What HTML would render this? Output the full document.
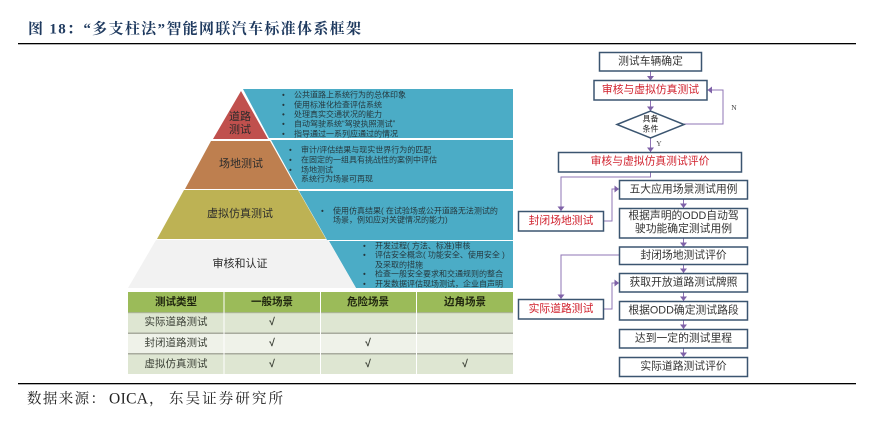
<!DOCTYPE html>
<html lang="zh"><head><meta charset="utf-8"><title>智能网联汽车标准体系框架</title>
<style>
html,body{margin:0;padding:0;background:#fff}
svg{display:block}
.s{font-family:"Liberation Sans","Noto Sans CJK SC",sans-serif}
.sf{font-family:"Liberation Serif","Noto Serif CJK SC",serif}
.b{font-size:8px;fill:#26393f;dominant-baseline:central}
.l{font-size:11px;fill:#2b2b2b;text-anchor:middle;dominant-baseline:central}
.t{font-size:10.5px;fill:#3a3f35;text-anchor:middle;dominant-baseline:central}
.v{font-size:10.5px;font-weight:700;fill:#3a3f35;text-anchor:middle;dominant-baseline:central}
.h{font-size:10.5px;font-weight:700;fill:#20260f;text-anchor:middle;dominant-baseline:central}
.f{font-size:10.8px;fill:#333;text-anchor:middle;dominant-baseline:central}
.r{font-size:10.8px;fill:#d0202c;text-anchor:middle;dominant-baseline:central}
.box{fill:#fff;stroke:#3b5570;stroke-width:1.5}
.c{fill:none;stroke:#8f74b5;stroke-width:1}
.a{fill:#7f62a8}
.d{filter:blur(.3px)}
</style></head><body>
<svg width="888" height="428" viewBox="0 0 888 428" xmlns="http://www.w3.org/2000/svg">
<rect width="888" height="428" fill="#fff"/>
<text class="sf" x="28" y="33.500" font-size="15" font-weight="700" fill="#1f3a5f" textLength="333" lengthAdjust="spacing">图 18：“多支柱法”智能网联汽车标准体系框架</text>
<rect x="18" y="43" width="838" height="1.3" fill="#000"/>
<rect x="18" y="383" width="838" height="1.3" fill="#000"/>
<text class="sf" x="27" y="403.500" font-size="14.500" fill="#222" textLength="78" lengthAdjust="spacing">数据来源：</text>
<text class="sf" x="109" y="403.500" font-size="15.500" fill="#222" textLength="39" lengthAdjust="spacing">OICA</text>
<text class="sf" x="149" y="403.500" font-size="14.500" fill="#222">，</text>
<text class="sf" x="169" y="403.500" font-size="14.500" fill="#222" textLength="114" lengthAdjust="spacing">东吴证券研究所</text>

<g class="d">
<polygon points="243,89 513,89 513,138 269,138" fill="#4bacc6"/>
<polygon points="271,140 513,140 513,189 298,189" fill="#4bacc6"/>
<polygon points="299,191 513,191 513,240 327,240" fill="#4bacc6"/>
<polygon points="329,241 513,241 513,288 356,288" fill="#4bacc6"/>
<polygon points="241,91 268,139 213,139" fill="#c0504d"/>
<polygon points="211,141 270,141 297,189 185,189" fill="#be7f4f"/>
<polygon points="184,190 298,190 326,239 157,239" fill="#bdb254"/>
<polygon points="156,240 328,240 356,288 128,288" fill="#f2f2f2"/>

<g class="s">
<text class="l" x="240" y="117">道路</text><text class="l" x="240" y="130">测试</text>
<text class="l" x="241" y="164">场地测试</text>
<text class="l" x="240" y="214">虚拟仿真测试</text>
<text class="l" x="240" y="264">审核和认证</text>

<g class="b">
<text x="282" y="95">•</text><text x="294" y="95">公共道路上系统行为的总体印象</text>
<text x="282" y="105">•</text><text x="294" y="105">使用标准化检查评估系统</text>
<text x="282" y="114.500">•</text><text x="294" y="114.500">处理真实交通状况的能力</text>
<text x="282" y="124">•</text><text x="294" y="124">自动驾驶系统“驾驶执照测试”</text>
<text x="282" y="134">•</text><text x="294" y="134">指导通过一系列应通过的情况</text>

<text x="289" y="150">•</text><text x="301" y="150">审计/评估结果与现实世界行为的匹配</text>
<text x="289" y="160">•</text><text x="301" y="160">在固定的一组具有挑战性的案例中评估</text>
<text x="289" y="170">•</text><text x="301" y="170">场地测试</text>
<text x="301" y="179">系统行为场景可再现</text>

<text x="321" y="211">•</text><text x="333" y="211">使用仿真结果( 在试验场或公开道路无法测试的</text>
<text x="333" y="220">场景，例如应对关键情况的能力)</text>

<text x="363" y="246">•</text><text x="375" y="246">开发过程( 方法、标准)审核</text>
<text x="363" y="255">•</text><text x="375" y="255">评估安全概念( 功能安全、使用安全 )</text>
<text x="375" y="265">及采取的措施</text>
<text x="363" y="274">•</text><text x="375" y="274">检查一般安全要求和交通规则的整合</text>
<text x="363" y="284">•</text><text x="375" y="284">开发数据评估现场测试，企业自声明</text>
</g>

<rect x="128" y="292" width="385" height="20" fill="#9bbb59"/>
<rect x="128" y="313" width="385" height="19.500" fill="#dee6d2"/>
<rect x="128" y="334" width="385" height="19" fill="#eff2e9"/>
<rect x="128" y="354.500" width="385" height="19.500" fill="#dee6d2"/>
<rect x="128" y="312" width="385" height="1.200" fill="#a9b48f"/>
<rect x="128" y="332.500" width="385" height="1.500" fill="#a8ab9e"/>
<rect x="128" y="353" width="385" height="1.500" fill="#a8ab9e"/>
<rect x="223.500" y="292" width="1" height="82" fill="#fff"/>
<rect x="320" y="292" width="1" height="82" fill="#fff"/>
<rect x="416" y="292" width="1" height="82" fill="#fff"/>
<text class="h" x="176" y="302">测试类型</text><text class="h" x="272" y="302">一般场景</text><text class="h" x="368" y="302">危险场景</text><text class="h" x="465" y="302">边角场景</text>
<text class="t" x="176" y="322">实际道路测试</text><text class="v" x="272" y="322">√</text>
<text class="t" x="176" y="343">封闭道路测试</text><text class="v" x="272" y="343">√</text><text class="v" x="368" y="343">√</text>
<text class="t" x="176" y="364">虚拟仿真测试</text><text class="v" x="272" y="364">√</text><text class="v" x="368" y="364">√</text><text class="v" x="465" y="364">√</text>
</g>

<path class="c" d="M650.500 71V80M650.500 100V111M650.500 138V152M684 124H723V90H707"/>
<path class="c" d="M650.500 172V177H561V211M604 221H612V189H619M619 255H561V299M604 309H612V283H619"/>
<path class="c" d="M683.500 199V208M683.500 238V247M683.500 264V273M683.500 292V301M683.500 320V329M683.500 348V357"/>
<g class="a">
<polygon points="647,76 654,76 650.500,80.500"/>
<polygon points="647,106.500 654,106.500 650.500,111"/>
<polygon points="647,147.500 654,147.500 650.500,152"/>
<polygon points="712,86.500 712,93.500 707.500,90"/>
<polygon points="557.500,206.500 564.500,206.500 561,211"/>
<polygon points="557.500,294.500 564.500,294.500 561,299"/>
<polygon points="614.500,185.500 614.500,192.500 619,189"/>
<polygon points="614.500,279.500 614.500,286.500 619,283"/>
<polygon points="680,203.500 687,203.500 683.500,208"/>
<polygon points="680,242.500 687,242.500 683.500,247"/>
<polygon points="680,268.500 687,268.500 683.500,273"/>
<polygon points="680,296.500 687,296.500 683.500,301"/>
<polygon points="680,324.500 687,324.500 683.500,329"/>
<polygon points="680,352.500 687,352.500 683.500,357"/>
</g>

<rect class="box" x="599.500" y="52.500" width="102" height="18.500"/>
<rect class="box" x="594" y="80.500" width="113" height="19.500"/>
<polygon class="box" points="617,124.500 650.500,111 684,124.500 650.500,138"/>
<rect class="box" x="558.500" y="152.500" width="183" height="19.500"/>
<rect class="box" x="619.500" y="180.500" width="128" height="18.500"/>
<rect class="box" x="619.500" y="208.500" width="128" height="29.500"/>
<rect class="box" x="619.500" y="247" width="128" height="17.500"/>
<rect class="box" x="619.500" y="273.500" width="128" height="18.500"/>
<rect class="box" x="619.500" y="301.500" width="128" height="18.500"/>
<rect class="box" x="619.500" y="329.500" width="128" height="18.500"/>
<rect class="box" x="619.500" y="357.500" width="128" height="19"/>
<rect class="box" x="518.500" y="211.500" width="85" height="19.500"/>
<rect class="box" x="518.500" y="299.500" width="85" height="19.500"/>

<g class="s">
<text class="f" x="650.500" y="61.500">测试车辆确定</text>
<text class="r" x="650.500" y="90">审核与虚拟仿真测试</text>
<text x="650.500" y="119" font-size="8" fill="#222" text-anchor="middle" dominant-baseline="central">具备</text>
<text x="650.500" y="129" font-size="8" fill="#222" text-anchor="middle" dominant-baseline="central">条件</text>
<text class="r" x="650" y="161.500">审核与虚拟仿真测试评价</text>
<text class="f" x="683.500" y="189.500">五大应用场景测试用例</text>
<text class="f" x="683.500" y="216">根据声明的ODD自动驾</text>
<text class="f" x="683.500" y="229">驶功能确定测试用例</text>
<text class="f" x="683.500" y="255.500">封闭场地测试评价</text>
<text class="f" x="683.500" y="282.500">获取开放道路测试牌照</text>
<text class="f" x="683.500" y="310.500">根据ODD确定测试路段</text>
<text class="f" x="683.500" y="338.500">达到一定的测试里程</text>
<text class="f" x="683.500" y="366.500">实际道路测试评价</text>
<text class="r" x="561" y="221">封闭场地测试</text>
<text class="r" x="561" y="309">实际道路测试</text>
</g>
<text class="sf" x="734" y="110" font-size="7.500" fill="#444" text-anchor="middle">N</text>
<text class="sf" x="659" y="146" font-size="7.500" fill="#444" text-anchor="middle">Y</text>
</g>
</svg>
</body></html>
